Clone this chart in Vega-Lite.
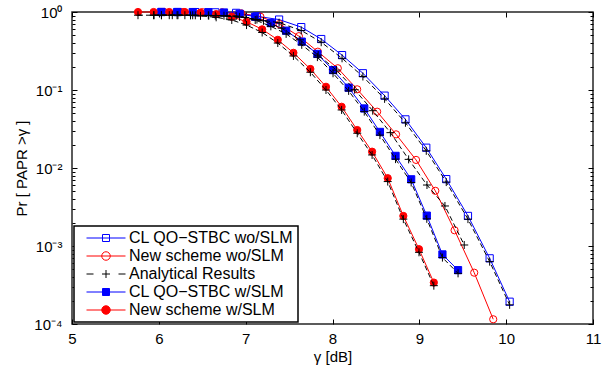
{
  "$schema": "https://vega.github.io/schema/vega-lite/v6.json",
  "width": 521,
  "height": 312,
  "autosize": "none",
  "padding": {"left": 72, "top": 12, "right": 21, "bottom": 42},
  "background": "white",
  "data": {
    "values": [
      {"k": "sim", "s": "bo", "c": "bo", "x": 6.03, "y": 1.0},
      {"k": "sim", "s": "bo", "c": "bo", "x": 6.22, "y": 0.999},
      {"k": "sim", "s": "bo", "c": "bo", "x": 6.42, "y": 0.997},
      {"k": "sim", "s": "bo", "c": "bo", "x": 6.65, "y": 0.99},
      {"k": "sim", "s": "bo", "c": "bo", "x": 6.89, "y": 0.975},
      {"k": "sim", "s": "bo", "c": "bo", "x": 7.13, "y": 0.88},
      {"k": "sim", "s": "bo", "c": "bo", "x": 7.385, "y": 0.8},
      {"k": "sim", "s": "bo", "c": "bo", "x": 7.64, "y": 0.64},
      {"k": "sim", "s": "bo", "c": "bo", "x": 7.87, "y": 0.45},
      {"k": "sim", "s": "bo", "c": "bo", "x": 8.11, "y": 0.28},
      {"k": "sim", "s": "bo", "c": "bo", "x": 8.35, "y": 0.164},
      {"k": "sim", "s": "bo", "c": "bo", "x": 8.6, "y": 0.0846},
      {"k": "sim", "s": "bo", "c": "bo", "x": 8.84, "y": 0.042},
      {"k": "sim", "s": "bo", "c": "bo", "x": 9.08, "y": 0.0182},
      {"k": "sim", "s": "bo", "c": "bo", "x": 9.31, "y": 0.0072},
      {"k": "sim", "s": "bo", "c": "bo", "x": 9.56, "y": 0.00243},
      {"k": "sim", "s": "bo", "c": "bo", "x": 9.81, "y": 0.000695},
      {"k": "sim", "s": "bo", "c": "bo", "x": 10.04, "y": 0.000193},

      {"k": "sim", "s": "ro", "c": "ro", "x": 6.06, "y": 1.0},
      {"k": "sim", "s": "ro", "c": "ro", "x": 6.28, "y": 0.999},
      {"k": "sim", "s": "ro", "c": "ro", "x": 6.5, "y": 0.997},
      {"k": "sim", "s": "ro", "c": "ro", "x": 6.73, "y": 0.99},
      {"k": "sim", "s": "ro", "c": "ro", "x": 6.95, "y": 0.96},
      {"k": "sim", "s": "ro", "c": "ro", "x": 7.17, "y": 0.87},
      {"k": "sim", "s": "ro", "c": "ro", "x": 7.39, "y": 0.7},
      {"k": "sim", "s": "ro", "c": "ro", "x": 7.613, "y": 0.49},
      {"k": "sim", "s": "ro", "c": "ro", "x": 7.831, "y": 0.31},
      {"k": "sim", "s": "ro", "c": "ro", "x": 8.061, "y": 0.19},
      {"k": "sim", "s": "ro", "c": "ro", "x": 8.284, "y": 0.102},
      {"k": "sim", "s": "ro", "c": "ro", "x": 8.514, "y": 0.0527},
      {"k": "sim", "s": "ro", "c": "ro", "x": 8.732, "y": 0.027},
      {"k": "sim", "s": "ro", "c": "ro", "x": 8.962, "y": 0.0127},
      {"k": "sim", "s": "ro", "c": "ro", "x": 9.184, "y": 0.0051},
      {"k": "sim", "s": "ro", "c": "ro", "x": 9.406, "y": 0.00159},
      {"k": "sim", "s": "ro", "c": "ro", "x": 9.632, "y": 0.000455},
      {"k": "sim", "s": "ro", "c": "ro", "x": 9.851, "y": 0.000115},

      {"k": "sim", "s": "bf", "c": "bf", "x": 6.03, "y": 1.0},
      {"k": "sim", "s": "bf", "c": "bf", "x": 6.21, "y": 0.999},
      {"k": "sim", "s": "bf", "c": "bf", "x": 6.39, "y": 0.998},
      {"k": "sim", "s": "bf", "c": "bf", "x": 6.57, "y": 0.995},
      {"k": "sim", "s": "bf", "c": "bf", "x": 6.75, "y": 0.985},
      {"k": "sim", "s": "bf", "c": "bf", "x": 6.93, "y": 0.95},
      {"k": "sim", "s": "bf", "c": "bf", "x": 7.11, "y": 0.87},
      {"k": "sim", "s": "bf", "c": "bf", "x": 7.29, "y": 0.72},
      {"k": "sim", "s": "bf", "c": "bf", "x": 7.466, "y": 0.576},
      {"k": "sim", "s": "bf", "c": "bf", "x": 7.646, "y": 0.417},
      {"k": "sim", "s": "bf", "c": "bf", "x": 7.826, "y": 0.29},
      {"k": "sim", "s": "bf", "c": "bf", "x": 8.006, "y": 0.18},
      {"k": "sim", "s": "bf", "c": "bf", "x": 8.186, "y": 0.107},
      {"k": "sim", "s": "bf", "c": "bf", "x": 8.366, "y": 0.058},
      {"k": "sim", "s": "bf", "c": "bf", "x": 8.546, "y": 0.029},
      {"k": "sim", "s": "bf", "c": "bf", "x": 8.726, "y": 0.0143},
      {"k": "sim", "s": "bf", "c": "bf", "x": 8.906, "y": 0.00716},
      {"k": "sim", "s": "bf", "c": "bf", "x": 9.086, "y": 0.00245},
      {"k": "sim", "s": "bf", "c": "bf", "x": 9.266, "y": 0.00078},
      {"k": "sim", "s": "bf", "c": "bf", "x": 9.446, "y": 0.00049},

      {"k": "sim", "s": "rf", "c": "rf", "x": 5.76, "y": 1.0},
      {"k": "sim", "s": "rf", "c": "rf", "x": 5.94, "y": 1.0},
      {"k": "sim", "s": "rf", "c": "rf", "x": 6.12, "y": 1.0},
      {"k": "sim", "s": "rf", "c": "rf", "x": 6.3, "y": 0.999},
      {"k": "sim", "s": "rf", "c": "rf", "x": 6.48, "y": 0.98},
      {"k": "sim", "s": "rf", "c": "rf", "x": 6.66, "y": 0.94},
      {"k": "sim", "s": "rf", "c": "rf", "x": 6.84, "y": 0.87},
      {"k": "sim", "s": "rf", "c": "rf", "x": 7.01, "y": 0.75},
      {"k": "sim", "s": "rf", "c": "rf", "x": 7.19, "y": 0.6},
      {"k": "sim", "s": "rf", "c": "rf", "x": 7.37, "y": 0.44},
      {"k": "sim", "s": "rf", "c": "rf", "x": 7.55, "y": 0.3},
      {"k": "sim", "s": "rf", "c": "rf", "x": 7.745, "y": 0.186},
      {"k": "sim", "s": "rf", "c": "rf", "x": 7.925, "y": 0.11},
      {"k": "sim", "s": "rf", "c": "rf", "x": 8.105, "y": 0.061},
      {"k": "sim", "s": "rf", "c": "rf", "x": 8.285, "y": 0.0307},
      {"k": "sim", "s": "rf", "c": "rf", "x": 8.456, "y": 0.0162},
      {"k": "sim", "s": "rf", "c": "rf", "x": 8.636, "y": 0.0074},
      {"k": "sim", "s": "rf", "c": "rf", "x": 8.816, "y": 0.00243},
      {"k": "sim", "s": "rf", "c": "rf", "x": 8.996, "y": 0.00091},
      {"k": "sim", "s": "rf", "c": "rf", "x": 9.167, "y": 0.00034},

      {"k": "ana", "s": "an", "c": "bo", "x": 6.03, "y": 0.91},
      {"k": "ana", "s": "an", "c": "bo", "x": 6.22, "y": 0.91},
      {"k": "ana", "s": "an", "c": "bo", "x": 6.42, "y": 0.907},
      {"k": "ana", "s": "an", "c": "bo", "x": 6.65, "y": 0.9},
      {"k": "ana", "s": "an", "c": "bo", "x": 6.89, "y": 0.887},
      {"k": "ana", "s": "an", "c": "bo", "x": 7.13, "y": 0.8},
      {"k": "ana", "s": "an", "c": "bo", "x": 7.385, "y": 0.73},
      {"k": "ana", "s": "an", "c": "bo", "x": 7.64, "y": 0.58},
      {"k": "ana", "s": "an", "c": "bo", "x": 7.87, "y": 0.41},
      {"k": "ana", "s": "an", "c": "bo", "x": 8.11, "y": 0.255},
      {"k": "ana", "s": "an", "c": "bo", "x": 8.35, "y": 0.149},
      {"k": "ana", "s": "an", "c": "bo", "x": 8.6, "y": 0.077},
      {"k": "ana", "s": "an", "c": "bo", "x": 8.84, "y": 0.038},
      {"k": "ana", "s": "an", "c": "bo", "x": 9.08, "y": 0.0166},
      {"k": "ana", "s": "an", "c": "bo", "x": 9.31, "y": 0.0066},
      {"k": "ana", "s": "an", "c": "bo", "x": 9.56, "y": 0.00221},
      {"k": "ana", "s": "an", "c": "bo", "x": 9.81, "y": 0.00063},
      {"k": "ana", "s": "an", "c": "bo", "x": 10.04, "y": 0.000176},

      {"k": "ana", "s": "an", "c": "ro", "x": 5.945, "y": 0.91},
      {"k": "ana", "s": "an", "c": "ro", "x": 6.155, "y": 0.91},
      {"k": "ana", "s": "an", "c": "ro", "x": 6.365, "y": 0.905},
      {"k": "ana", "s": "an", "c": "ro", "x": 6.575, "y": 0.9},
      {"k": "ana", "s": "an", "c": "ro", "x": 6.785, "y": 0.885},
      {"k": "ana", "s": "an", "c": "ro", "x": 6.995, "y": 0.85},
      {"k": "ana", "s": "an", "c": "ro", "x": 7.205, "y": 0.77},
      {"k": "ana", "s": "an", "c": "ro", "x": 7.415, "y": 0.62},
      {"k": "ana", "s": "an", "c": "ro", "x": 7.625, "y": 0.44},
      {"k": "ana", "s": "an", "c": "ro", "x": 7.835, "y": 0.28},
      {"k": "ana", "s": "an", "c": "ro", "x": 8.045, "y": 0.18},
      {"k": "ana", "s": "an", "c": "ro", "x": 8.255, "y": 0.101},
      {"k": "ana", "s": "an", "c": "ro", "x": 8.463, "y": 0.0543},
      {"k": "ana", "s": "an", "c": "ro", "x": 8.667, "y": 0.0284},
      {"k": "ana", "s": "an", "c": "ro", "x": 8.877, "y": 0.0129},
      {"k": "ana", "s": "an", "c": "ro", "x": 9.088, "y": 0.00605},
      {"k": "ana", "s": "an", "c": "ro", "x": 9.295, "y": 0.00326},
      {"k": "ana", "s": "an", "c": "ro", "x": 9.517, "y": 0.00103},

      {"k": "ana", "s": "an", "c": "bf", "x": 6.03, "y": 0.91},
      {"k": "ana", "s": "an", "c": "bf", "x": 6.21, "y": 0.91},
      {"k": "ana", "s": "an", "c": "bf", "x": 6.39, "y": 0.908},
      {"k": "ana", "s": "an", "c": "bf", "x": 6.57, "y": 0.905},
      {"k": "ana", "s": "an", "c": "bf", "x": 6.75, "y": 0.896},
      {"k": "ana", "s": "an", "c": "bf", "x": 6.93, "y": 0.865},
      {"k": "ana", "s": "an", "c": "bf", "x": 7.11, "y": 0.79},
      {"k": "ana", "s": "an", "c": "bf", "x": 7.29, "y": 0.655},
      {"k": "ana", "s": "an", "c": "bf", "x": 7.466, "y": 0.524},
      {"k": "ana", "s": "an", "c": "bf", "x": 7.646, "y": 0.379},
      {"k": "ana", "s": "an", "c": "bf", "x": 7.826, "y": 0.264},
      {"k": "ana", "s": "an", "c": "bf", "x": 8.006, "y": 0.164},
      {"k": "ana", "s": "an", "c": "bf", "x": 8.186, "y": 0.0974},
      {"k": "ana", "s": "an", "c": "bf", "x": 8.366, "y": 0.0528},
      {"k": "ana", "s": "an", "c": "bf", "x": 8.546, "y": 0.0264},
      {"k": "ana", "s": "an", "c": "bf", "x": 8.726, "y": 0.013},
      {"k": "ana", "s": "an", "c": "bf", "x": 8.906, "y": 0.00652},
      {"k": "ana", "s": "an", "c": "bf", "x": 9.086, "y": 0.00223},
      {"k": "ana", "s": "an", "c": "bf", "x": 9.266, "y": 0.00071},
      {"k": "ana", "s": "an", "c": "bf", "x": 9.446, "y": 0.000446},

      {"k": "ana", "s": "an", "c": "rf", "x": 5.76, "y": 0.91},
      {"k": "ana", "s": "an", "c": "rf", "x": 5.94, "y": 0.91},
      {"k": "ana", "s": "an", "c": "rf", "x": 6.12, "y": 0.91},
      {"k": "ana", "s": "an", "c": "rf", "x": 6.3, "y": 0.909},
      {"k": "ana", "s": "an", "c": "rf", "x": 6.48, "y": 0.892},
      {"k": "ana", "s": "an", "c": "rf", "x": 6.66, "y": 0.855},
      {"k": "ana", "s": "an", "c": "rf", "x": 6.84, "y": 0.79},
      {"k": "ana", "s": "an", "c": "rf", "x": 7.01, "y": 0.68},
      {"k": "ana", "s": "an", "c": "rf", "x": 7.19, "y": 0.546},
      {"k": "ana", "s": "an", "c": "rf", "x": 7.37, "y": 0.4},
      {"k": "ana", "s": "an", "c": "rf", "x": 7.55, "y": 0.273},
      {"k": "ana", "s": "an", "c": "rf", "x": 7.745, "y": 0.169},
      {"k": "ana", "s": "an", "c": "rf", "x": 7.925, "y": 0.1},
      {"k": "ana", "s": "an", "c": "rf", "x": 8.105, "y": 0.0555},
      {"k": "ana", "s": "an", "c": "rf", "x": 8.285, "y": 0.0279},
      {"k": "ana", "s": "an", "c": "rf", "x": 8.456, "y": 0.0147},
      {"k": "ana", "s": "an", "c": "rf", "x": 8.636, "y": 0.0067},
      {"k": "ana", "s": "an", "c": "rf", "x": 8.816, "y": 0.00221},
      {"k": "ana", "s": "an", "c": "rf", "x": 8.996, "y": 0.00083},
      {"k": "ana", "s": "an", "c": "rf", "x": 9.167, "y": 0.00031}
    ]
  },
  "layer": [
    {
      "encoding": {
        "x": {
          "field": "x", "type": "quantitative",
          "scale": {"type": "linear", "domain": [5, 11], "nice": false, "zero": false},
          "axis": {
            "orient": "bottom", "values": [5, 6, 7, 8, 9, 10, 11], "tickSize": -5,
            "labelPadding": 12, "domain": false, "grid": false, "labelFlush": false,
            "labelFontSize": 15, "title": "γ [dB]", "titleFontSize": 15,
            "titleY": 32, "titleBaseline": "middle"
          }
        },
        "y": {
          "field": "y", "type": "quantitative",
          "scale": {"type": "log", "domain": [0.0001, 1], "nice": false},
          "axis": {
            "orient": "left",
            "values": [0.0001, 0.0002, 0.0003, 0.0004, 0.0005, 0.0006, 0.0007, 0.0008, 0.0009, 0.001, 0.002, 0.003, 0.004, 0.005, 0.006, 0.007, 0.008, 0.009, 0.01, 0.02, 0.03, 0.04, 0.05, 0.06, 0.07, 0.08, 0.09, 0.1, 0.2, 0.3, 0.4, 0.5, 0.6, 0.7, 0.8, 0.9, 1],
            "tickSize": {"condition": {"test": "datum.value == 1 || datum.value == 0.1 || datum.value == 0.01 || datum.value == 0.001 || datum.value == 0.0001", "value": -5}, "value": -3},
            "labelExpr": "datum.value == 1 ? '10⁰' : datum.value == 0.1 ? '10⁻¹' : datum.value == 0.01 ? '10⁻²' : datum.value == 0.001 ? '10⁻³' : datum.value == 0.0001 ? '10⁻⁴' : ''",
            "labelPadding": 15, "labelOverlap": false, "labelFlush": false, "domain": false, "grid": false,
            "labelFontSize": 15, "title": "Pr [ PAPR  >γ ]", "titleFontSize": 15,
            "titleX": -51, "titleY": 156, "titleBaseline": "middle", "titleAlign": "center"
          }
        }
      },
      "layer": [
        {
          "transform": [{"filter": "datum.k == 'sim'"}],
          "mark": {"type": "line", "strokeWidth": 1},
          "encoding": {
            "color": {
              "field": "s", "type": "nominal",
              "scale": {"domain": ["bo", "ro", "an", "bf", "rf"], "range": ["#0000ff", "#ff0000", "#000000", "#0000ff", "#ff0000"]},
              "legend": {
                "orient": "bottom-left", "offset": 2, "title": null, "padding": 4,
                "fillColor": "white", "strokeColor": "black",
                "labelFont": "Liberation Sans", "labelFontSize": 16, "labelColor": "black", "labelLimit": 0,
                "labelOffset": 15, "symbolOffset": 20, "rowPadding": 2, "symbolSize": 100,
                "labelExpr": "datum.value == 'bo' ? 'CL QO−STBC wo/SLM' : datum.value == 'ro' ? 'New scheme wo/SLM' : datum.value == 'an' ? 'Analytical Results' : datum.value == 'bf' ? 'CL QO−STBC w/SLM' : 'New scheme w/SLM'",
                "encode": {
                  "legend": {"update": {"strokeWidth": {"value": 1.5}}},
                  "symbols": {
                    "update": {
                      "shape": {"signal": "datum.value == 'an' ? 'M-3.9,0H-2.5M2.5,0H3.9M-0.8,0H0.8M0,-0.8V0.8' : (datum.value == 'bo' || datum.value == 'bf') ? 'M-3.9,0H3.9M-0.7,-0.7H0.7V0.7H-0.7Z' : 'M-3.9,0H3.9M0.85,0A0.85,0.85,0,1,1,-0.85,0A0.85,0.85,0,1,1,0.85,0Z'"},
                      "fill": {"signal": "datum.value == 'bf' ? '#0000ff' : datum.value == 'rf' ? '#ff0000' : 'transparent'"},
                      "stroke": {"signal": "(datum.value == 'bo' || datum.value == 'bf') ? '#0000ff' : (datum.value == 'ro' || datum.value == 'rf') ? '#ff0000' : '#000000'"},
                      "size": {"value": 100},
                      "strokeWidth": {"value": 1},
                      "opacity": {"value": 1}
                    }
                  }
                }
              }
            }
          }
        },
        {
          "transform": [{"filter": "datum.k == 'sim'"}],
          "mark": {"type": "point", "filled": false, "strokeWidth": 1, "size": 52, "opacity": 1},
          "encoding": {
            "color": {
              "field": "s", "type": "nominal",
              "scale": {"domain": ["bo", "ro", "an", "bf", "rf"], "range": ["#0000ff", "#ff0000", "#000000", "#0000ff", "#ff0000"]}
            },
            "shape": {
              "field": "s", "type": "nominal",
              "scale": {"domain": ["bo", "ro", "bf", "rf"], "range": ["square", "circle", "square", "circle"]},
              "legend": null
            },
            "fill": {
              "field": "s", "type": "nominal",
              "scale": {"domain": ["bo", "ro", "bf", "rf"], "range": ["transparent", "transparent", "#0000ff", "#ff0000"]},
              "legend": null
            }
          }
        },
        {
          "transform": [{"filter": "datum.k == 'ana'"}],
          "mark": {"type": "line", "strokeWidth": 1, "strokeDash": [5, 3]},
          "encoding": {
            "color": {
              "field": "s", "type": "nominal",
              "scale": {"domain": ["bo", "ro", "an", "bf", "rf"], "range": ["#0000ff", "#ff0000", "#000000", "#0000ff", "#ff0000"]}
            },
            "detail": {"field": "c", "type": "nominal"}
          }
        },
        {
          "transform": [{"filter": "datum.k == 'ana'"}],
          "mark": {"type": "point", "filled": false, "strokeWidth": 1, "size": 64, "opacity": 1, "shape": "M-1,0H1M0,-1V1"},
          "encoding": {
            "color": {
              "field": "s", "type": "nominal",
              "scale": {"domain": ["bo", "ro", "an", "bf", "rf"], "range": ["#0000ff", "#ff0000", "#000000", "#0000ff", "#ff0000"]}
            }
          }
        }
      ]
    },
    {
      "mark": {"type": "point", "opacity": 0},
      "encoding": {
        "x": {
          "field": "x", "type": "quantitative",
          "scale": {"type": "linear", "domain": [5, 11], "nice": false, "zero": false},
          "axis": {"orient": "top", "values": [5, 6, 7, 8, 9, 10, 11], "tickSize": -5, "labels": false, "domain": false, "grid": false, "title": null}
        },
        "y": {
          "field": "y", "type": "quantitative",
          "scale": {"type": "log", "domain": [0.0001, 1], "nice": false},
          "axis": {
            "orient": "right",
            "values": [0.0001, 0.0002, 0.0003, 0.0004, 0.0005, 0.0006, 0.0007, 0.0008, 0.0009, 0.001, 0.002, 0.003, 0.004, 0.005, 0.006, 0.007, 0.008, 0.009, 0.01, 0.02, 0.03, 0.04, 0.05, 0.06, 0.07, 0.08, 0.09, 0.1, 0.2, 0.3, 0.4, 0.5, 0.6, 0.7, 0.8, 0.9, 1],
            "tickSize": {"condition": {"test": "datum.value == 1 || datum.value == 0.1 || datum.value == 0.01 || datum.value == 0.001 || datum.value == 0.0001", "value": -5}, "value": -3},
            "labels": false, "domain": false, "grid": false, "title": null
          }
        }
      }
    }
  ],
  "resolve": {"axis": {"x": "independent", "y": "independent"}},
  "config": {
    "font": "Liberation Sans",
    "view": {"stroke": "#262626", "strokeWidth": 1.5},
    "axis": {"labelColor": "black", "titleColor": "black", "tickColor": "black", "tickWidth": 1, "titleFontWeight": "normal", "labelFont": "Liberation Sans", "titleFont": "Liberation Sans"}
  }
}
